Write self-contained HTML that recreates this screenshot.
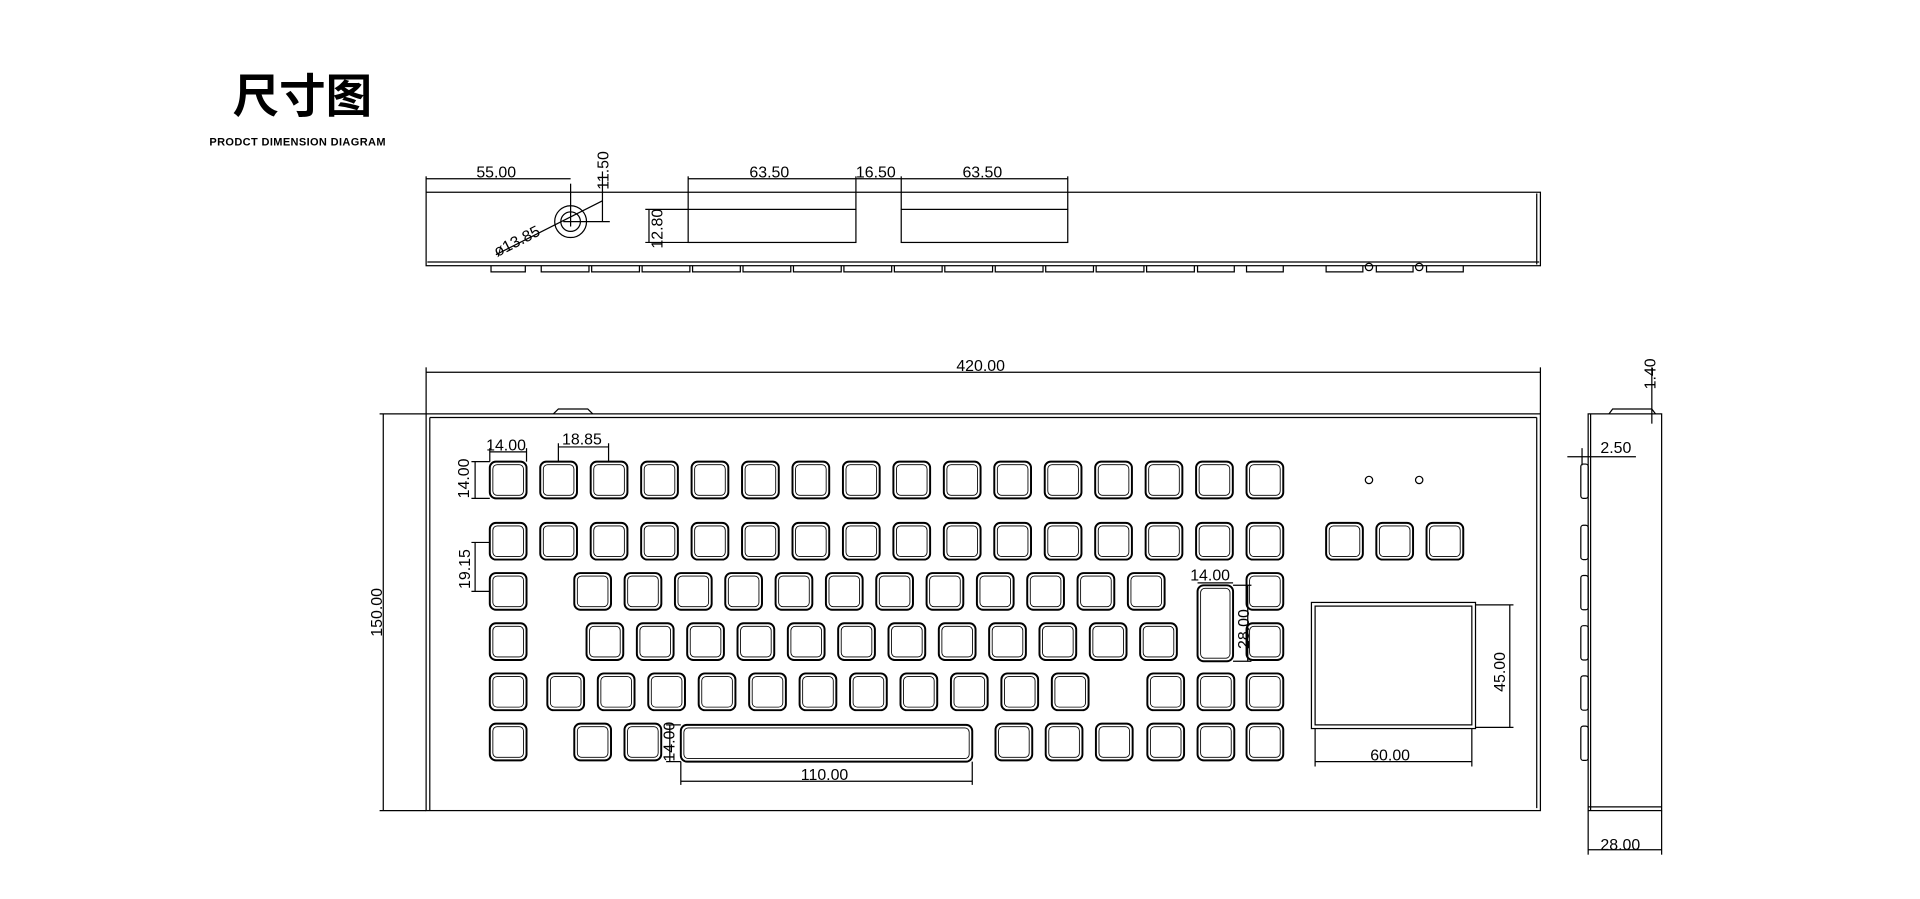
<!DOCTYPE html>
<html><head><meta charset="utf-8"><style>
html,body{margin:0;padding:0;background:#fff;width:1920px;height:899px;overflow:hidden}
svg{display:block}
text{font-family:"Liberation Sans","Noto Sans CJK SC",sans-serif;fill:#000}
</style></head><body>
<svg id="s" width="1920" height="899" viewBox="0 0 1568 734.2" preserveAspectRatio="none" xmlns="http://www.w3.org/2000/svg">
<g fill="none" stroke="#000" stroke-width="1">
<rect x="348" y="157" width="910" height="60"/>
<line x1="1255" y1="158" x2="1255" y2="216"/>
<line x1="349" y1="214" x2="1257" y2="214"/>
<circle cx="466" cy="181" r="13"/><circle cx="466" cy="181" r="8"/>
<line x1="405" y1="208" x2="492" y2="164"/>
<line x1="466" y1="150" x2="466" y2="185"/><line x1="460" y1="181" x2="498" y2="181"/>
<line x1="492" y1="140" x2="492" y2="181"/>
<line x1="348" y1="144" x2="348" y2="157"/><line x1="348" y1="146" x2="466" y2="146"/>
<rect x="562" y="171" width="137" height="27"/>
<rect x="736" y="171" width="136" height="27"/>
<line x1="562" y1="144" x2="562" y2="171"/><line x1="699" y1="144" x2="699" y2="171"/>
<line x1="736" y1="144" x2="736" y2="171"/><line x1="872" y1="144" x2="872" y2="171"/>
<line x1="562" y1="146" x2="699" y2="146"/><line x1="699" y1="146" x2="736" y2="146"/><line x1="736" y1="146" x2="872" y2="146"/>
<line x1="527" y1="171" x2="562" y2="171"/><line x1="527" y1="198" x2="562" y2="198"/><line x1="530" y1="171" x2="530" y2="198"/>
<g id="tk"></g>
<rect x="348" y="338" width="910" height="324"/>
<line x1="351" y1="341" x2="1255" y2="341"/><line x1="351" y1="341" x2="351" y2="662"/>
<line x1="1255" y1="341" x2="1255" y2="660"/>
<path d="M452 338 L456 334 L480 334 L484 338"/>
<line x1="348" y1="300" x2="348" y2="338"/><line x1="1258" y1="300" x2="1258" y2="338"/>
<line x1="348" y1="304" x2="1258" y2="304"/>
<line x1="310" y1="338" x2="348" y2="338"/><line x1="310" y1="662" x2="348" y2="662"/>
<line x1="313" y1="338" x2="313" y2="662"/>
<g id="keys"></g>
<line x1="400" y1="366" x2="400" y2="377"/><line x1="430" y1="366" x2="430" y2="377"/><line x1="400" y1="369" x2="430" y2="369"/>
<line x1="456" y1="362" x2="456" y2="377"/><line x1="497" y1="362" x2="497" y2="377"/><line x1="456" y1="365" x2="497" y2="365"/>
<line x1="385" y1="377" x2="400" y2="377"/><line x1="385" y1="407" x2="400" y2="407"/><line x1="388" y1="377" x2="388" y2="407"/>
<line x1="385" y1="443" x2="400" y2="443"/><line x1="385" y1="483" x2="400" y2="483"/><line x1="388" y1="443" x2="388" y2="483"/>
<line x1="978" y1="476" x2="1007" y2="476"/><line x1="1007" y1="478" x2="1022" y2="478"/><line x1="1007" y1="540" x2="1022" y2="540"/><line x1="1019" y1="478" x2="1019" y2="540"/>
<line x1="544" y1="592" x2="556" y2="592"/><line x1="544" y1="622" x2="556" y2="622"/><line x1="547" y1="592" x2="547" y2="622"/>
<line x1="556" y1="622" x2="556" y2="641"/><line x1="794" y1="622" x2="794" y2="641"/><line x1="556" y1="638" x2="794" y2="638"/>
<circle cx="1118" cy="392" r="3"/><circle cx="1159" cy="392" r="3"/>
<rect x="1071" y="492" width="134" height="103"/><rect x="1074" y="495" width="128" height="97"/>
<line x1="1074" y1="595" x2="1074" y2="626"/><line x1="1202" y1="595" x2="1202" y2="626"/><line x1="1074" y1="622" x2="1202" y2="622"/>
<line x1="1205" y1="494" x2="1236" y2="494"/><line x1="1205" y1="594" x2="1236" y2="594"/><line x1="1233" y1="494" x2="1233" y2="594"/>
<rect x="1297" y="338" width="60" height="324"/><line x1="1299" y1="338" x2="1299" y2="662"/><line x1="1297" y1="659" x2="1357" y2="659"/>
<path d="M1314 338 L1317 334 L1349 334 L1352 338"/>
<line x1="1349" y1="300" x2="1349" y2="346"/>
<line x1="1280" y1="373" x2="1297" y2="373"/><line x1="1297" y1="373" x2="1336" y2="373"/><line x1="1292" y1="366" x2="1292" y2="380"/>
<line x1="1297" y1="662" x2="1297" y2="698"/><line x1="1357" y1="662" x2="1357" y2="698"/><line x1="1297" y1="694" x2="1357" y2="694"/>
<g id="sk"></g>
</g>
<text x="190" y="92" font-size="38" font-weight="bold" font-family="Noto Sans CJK SC, sans-serif">尺寸图</text>
<text x="171" y="119" font-size="9" font-weight="bold" letter-spacing="0.3">PRODCT  DIMENSION  DIAGRAM</text>
<g font-size="13">
<text x="389" y="145">55.00</text>
<text x="612" y="145">63.50</text>
<text x="699" y="145">16.50</text>
<text x="786" y="145">63.50</text>
<text transform="translate(497,155) rotate(-90)">11.50</text>
<text transform="translate(541,203) rotate(-90)">12.80</text>
<text transform="translate(406,210) rotate(-27)">ø13.85</text>
<text x="781" y="303">420.00</text>
<text transform="translate(312,520) rotate(-90)">150.00</text>
<text x="397" y="368">14.00</text>
<text x="459" y="363">18.85</text>
<text transform="translate(383,407) rotate(-90)">14.00</text>
<text transform="translate(384,481) rotate(-90)">19.15</text>
<text x="972" y="474">14.00</text>
<text transform="translate(1020,530) rotate(-90)">28.00</text>
<text transform="translate(551,622) rotate(-90)">14.00</text>
<text x="654" y="637">110.00</text>
<text x="1119" y="621">60.00</text>
<text transform="translate(1229,565) rotate(-90)">45.00</text>
<text transform="translate(1352,318) rotate(-90)">1.40</text>
<text x="1307" y="370">2.50</text>
<text x="1307" y="694">28.00</text>
</g>
</svg>
<script>
var NS="http://www.w3.org/2000/svg";
function el(p,t,a){var e=document.createElementNS(NS,t);for(var k in a)e.setAttribute(k,a[k]);document.getElementById(p).appendChild(e);}
function key(x,y,w,h){el("keys","rect",{x:x,y:y,width:w,height:h,rx:5,"stroke-width":1.6});el("keys","rect",{x:x+2.5,y:y+2.5,width:w-5,height:h-5,rx:3.5,"stroke-width":0.7});}
var P=41.2,i;
for(i=0;i<16;i++)key(400+P*i,377,30,30);
for(i=0;i<16;i++)key(400+P*i,427,30,30);
[1083,1124,1165].forEach(function(x){key(x,427,30,30)});
key(400,468,30,30);for(i=0;i<12;i++)key(469+41.1*i,468,30,30);key(1018,468,30,30);
key(978,478,29,62);
key(400,509,30,30);for(i=0;i<12;i++)key(479+41.1*i,509,30,30);key(1018,509,30,30);
key(400,550,30,30);for(i=0;i<11;i++)key(447+41.2*i,550,30,30);[937,978,1018].forEach(function(x){key(x,550,30,30)});
[400,469,510,813,854,895,937,978,1018].forEach(function(x){key(x,591,30,30)});
key(556,592,238,30);
for(i=0;i<14;i++){var x=(i==0?400:441+41.2*(i-1));el("tk","path",{d:"M"+(x+1)+" 217 v5 h"+(i==0?28:39)+" v-5"});}
[978,1018,1083,1124,1165].forEach(function(x){el("tk","path",{d:"M"+x+" 217 v5 h30 v-5"})});
[1118,1159].forEach(function(x){el("tk","circle",{cx:x,cy:218,r:3})});
[377,427,468,509,550,591].forEach(function(y){el("sk","rect",{x:1291,y:y+2,width:6,height:28,rx:2})});
</script>
</body></html>
